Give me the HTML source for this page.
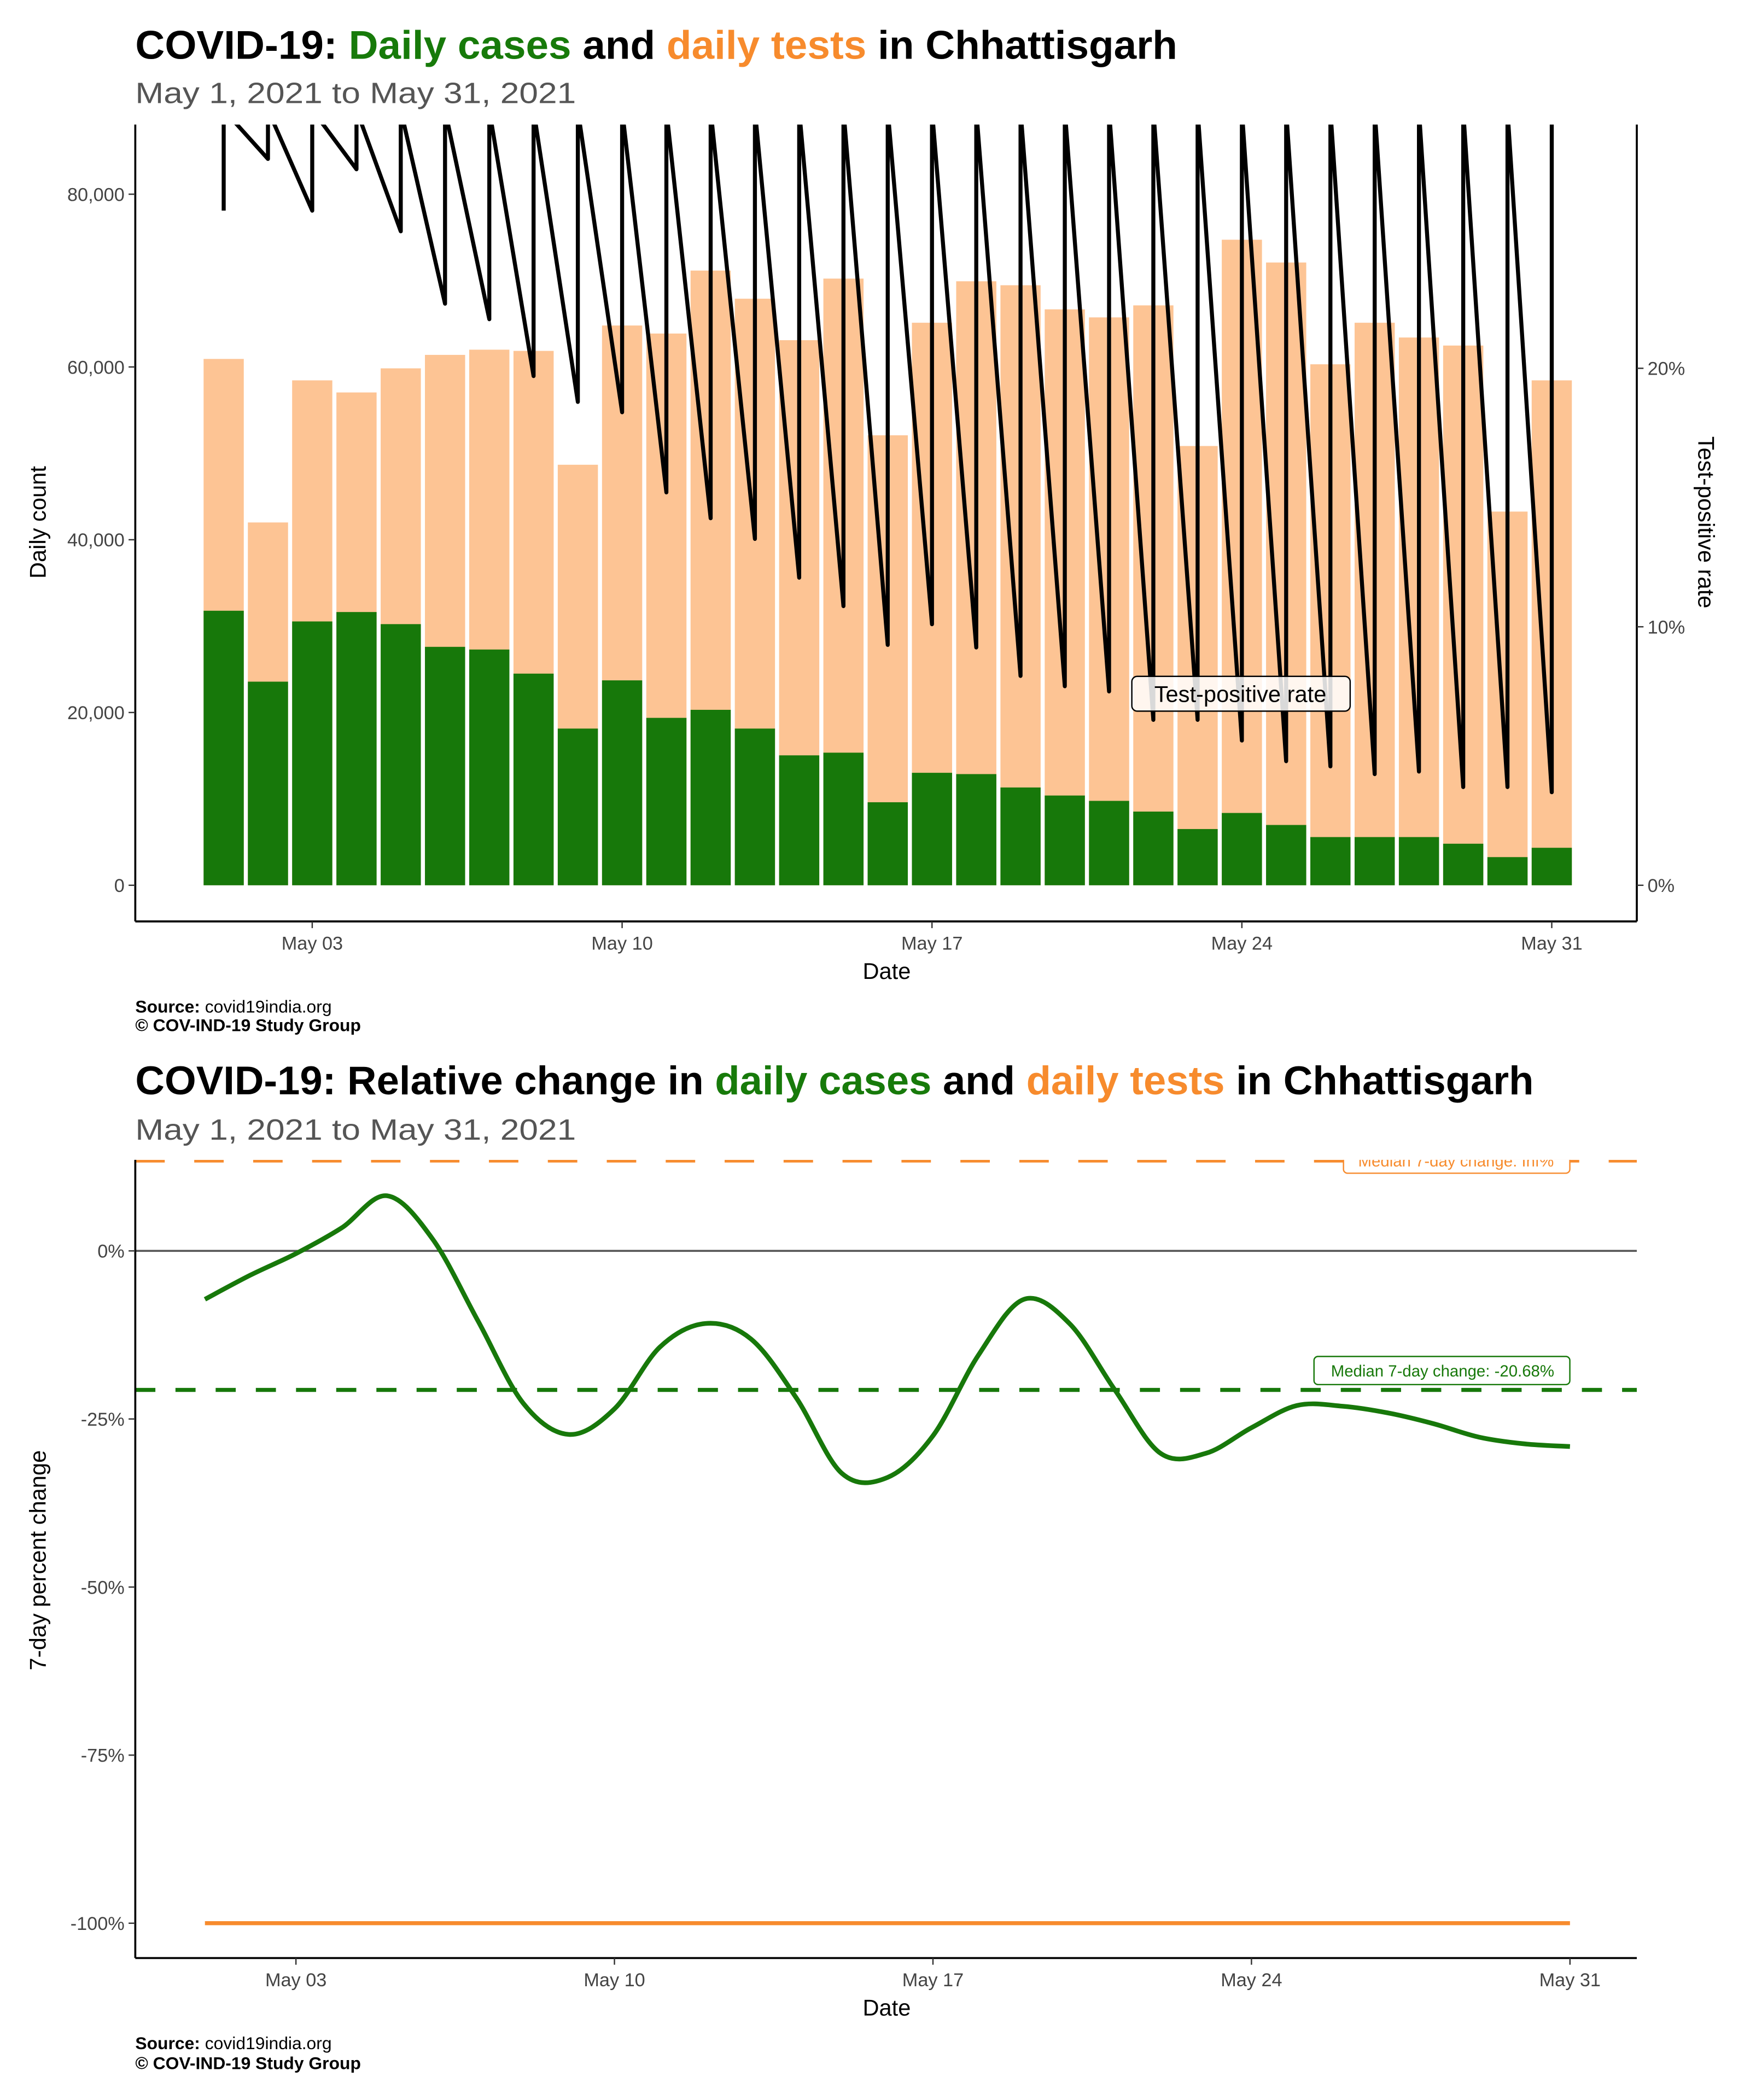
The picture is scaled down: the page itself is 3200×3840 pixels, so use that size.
<!DOCTYPE html>
<html><head><meta charset="utf-8"><style>
html,body{margin:0;padding:0;background:#fff;}
svg{display:block;font-family:"Liberation Sans",sans-serif;}
</style></head><body>
<svg id="root" width="3200" height="3840" viewBox="0 0 1306.5 1568" preserveAspectRatio="none" xmlns="http://www.w3.org/2000/svg">
<defs>
<clipPath id="clip1"><rect x="101" y="93" width="1121" height="595"/></clipPath>
<clipPath id="clip2"><rect x="101" y="866" width="1121" height="596"/></clipPath>
</defs>
<g>
<text x="101" y="44" font-size="30" font-weight="bold" textLength="778" lengthAdjust="spacingAndGlyphs">COVID-19: <tspan fill="#177a0a">Daily cases</tspan> and <tspan fill="#f78b2d">daily tests</tspan> in Chhattisgarh</text>
<text x="101" y="77" font-size="22" fill="#555" textLength="329" lengthAdjust="spacingAndGlyphs">May  1, 2021 to May 31, 2021</text>
</g>
<g id="chart1"></g>
<g>
<text x="101" y="756" font-size="13"><tspan font-weight="bold">Source:</tspan> covid19india.org</text>
<text x="101" y="770" font-size="13" font-weight="bold">© COV-IND-19 Study Group</text>
</g>
<g>
<text x="101" y="817" font-size="30" font-weight="bold" textLength="1044" lengthAdjust="spacingAndGlyphs">COVID-19: Relative change in <tspan fill="#177a0a">daily cases</tspan> and <tspan fill="#f78b2d">daily tests</tspan> in Chhattisgarh</text>
<text x="101" y="851" font-size="22" fill="#555" textLength="329" lengthAdjust="spacingAndGlyphs">May  1, 2021 to May 31, 2021</text>
</g>
<g id="chart2"></g>
<g>
<text x="101" y="1530" font-size="13"><tspan font-weight="bold">Source:</tspan> covid19india.org</text>
<text x="101" y="1545" font-size="13" font-weight="bold">© COV-IND-19 Study Group</text>
</g>
</svg>
<script>
const days = [1,2,3,4,5,6,7,8,9,10,11,12,13,14,15,16,17,18,19,20,21,22,23,24,25,26,27,28,29,30,31];
const tests = [60930,42000,58450,57050,59840,61400,62000,61860,48680,64800,63870,71160,67900,63100,70230,52090,65120,69920,69460,66670,65740,67130,50850,74730,72090,60310,65120,63410,62480,43260,58450];
const cases = [31780,23570,30540,31630,30230,27600,27290,24500,18140,23720,19380,20310,18140,15040,15350,9610,13020,12870,11320,10390,9770,8530,6510,8370,6980,5580,5580,5580,4810,3260,4340];
const tprLow = [26.1,28.1,26.1,27.7,25.3,22.5,21.9,19.7,18.7,18.3,15.2,14.2,13.4,11.9,10.8,9.3,10.1,9.2,8.1,7.7,7.5,6.4,6.4,5.6,4.8,4.6,4.3,4.4,3.8,3.8,3.6];
const tprHigh = [30,30,30,30,30,30,30,30,30,30,30,30,30,30,30,30,30,30,30,30,30,30,30,30,30,30,30,30,30,30,30];
const leftTicks = [0,20000,40000,60000,80000];
const leftTickLabels = ["0","20,000","40,000","60,000","80,000"];
const rightTicks = [0,10,20];
const rightTickLabels = ["0%","10%","20%"];
const xTicks = [3,10,17,24,31];
const xTickLabels = ["May 03","May 10","May 17","May 24","May 31"];
const change = [-7.2,-3.6,-0.4,3.4,8.2,1.8,-10.4,-22.7,-27.3,-23.5,-14.3,-10.8,-13.1,-21.9,-33.1,-33.7,-27.5,-15.5,-7.2,-10.8,-20.7,-30.1,-30.1,-26.3,-23.0,-23.1,-24.1,-25.7,-27.7,-28.7,-29.1];
const medianCases = -20.68;
const testsChange = -100;
const yTicks2 = [0,-25,-50,-75,-100];
const yTickLabels2 = ["0%","-25%","-50%","-75%","-100%"];

const NS="http://www.w3.org/2000/svg";
function mk(parent,tag,attrs,text){const e=document.createElementNS(NS,tag);for(const k in attrs)e.setAttribute(k,attrs[k]);if(text!==undefined)e.textContent=text;parent.appendChild(e);return e;}

// Chart 1
const c1=document.getElementById('chart1');
const x1=d=>167+(d-1)*33.05;
const yL=v=>661-v*129/20000;
const yR=p=>661-p*19.3;
const bw=30;
const bars=mk(c1,'g',{'clip-path':'url(#clip1)'});


days.forEach((d,i)=>{
  const t=mk(bars,'rect',{x:x1(d)-bw/2,y:yL(tests[i]),width:bw,height:yL(0)-yL(tests[i]),fill:'#fdc494'});
  
  
  const c=mk(bars,'rect',{x:x1(d)-bw/2,y:yL(cases[i]),width:bw,height:yL(0)-yL(cases[i]),fill:'#17780a'});
  
  
});
let pd='';
days.forEach((d,i)=>{pd+=(i?'L':'M')+x1(d)+','+yR(tprLow[i])+'L'+x1(d)+','+yR(tprHigh[i]);});
const tl=mk(c1,'path',{d:pd,fill:'none',stroke:'#000','stroke-width':3,'stroke-linejoin':'round','clip-path':'url(#clip1)'});


const lb=mk(c1,'g',{});


mk(lb,'rect',{x:845,y:505,width:163,height:26,rx:4,fill:'#fff','fill-opacity':0.85,stroke:'#000','stroke-width':1});
mk(lb,'text',{x:926,y:524,'font-size':17,'text-anchor':'middle'},'Test-positive rate');
const ax1=mk(c1,'g',{});


mk(ax1,'line',{x1:101,y1:93,x2:101,y2:688,stroke:'#000','stroke-width':1.5});
mk(ax1,'line',{x1:1222,y1:93,x2:1222,y2:688,stroke:'#000','stroke-width':1.5});
mk(ax1,'line',{x1:101,y1:688,x2:1222,y2:688,stroke:'#000','stroke-width':1.5});
leftTicks.forEach((v,i)=>{mk(ax1,'line',{x1:96,x2:101,y1:yL(v),y2:yL(v),stroke:'#333'});
  const t=mk(ax1,'text',{x:93,y:yL(v)+5,'font-size':14,fill:'#444','text-anchor':'end'},leftTickLabels[i]);
  
  });
rightTicks.forEach((v,i)=>{mk(ax1,'line',{x1:1222,x2:1227,y1:yR(v),y2:yR(v),stroke:'#333'});
  const t=mk(ax1,'text',{x:1230,y:yR(v)+5,'font-size':14,fill:'#444'},rightTickLabels[i]);
  
  });
xTicks.forEach((d,i)=>{mk(ax1,'line',{x1:x1(d),x2:x1(d),y1:688,y2:693,stroke:'#333'});
  const t=mk(ax1,'text',{x:x1(d),y:709,'font-size':14,fill:'#444','text-anchor':'middle'},xTickLabels[i]);
  
  });
let t1=mk(ax1,'text',{x:662,y:731,'font-size':17,'text-anchor':'middle'},'Date');


t1=mk(ax1,'text',{transform:'translate(34,390) rotate(-90)','font-size':17,'text-anchor':'middle'},'Daily count');


t1=mk(ax1,'text',{transform:'translate(1268,390) rotate(90)','font-size':17,'text-anchor':'middle'},'Test-positive rate');



// Chart 2
const c2=document.getElementById('chart2');
const x2=d=>153+(d-1)*33.97;
const y2=p=>934-p*5.02;
const g2=mk(c2,'g',{'clip-path':'url(#clip2)'});


let z=mk(g2,'line',{x1:101,x2:1222,y1:y2(0),y2:y2(0),stroke:'#555','stroke-width':1.5});


z=mk(g2,'line',{x1:101,x2:1222,y1:867,y2:867,stroke:'#f78b2d','stroke-width':2,'stroke-dasharray':'22 22'});


z=mk(g2,'g',{});


mk(z,'rect',{x:1003,y:858,width:169,height:18,rx:3,fill:'#fff',stroke:'#f78b2d','stroke-width':1});
mk(z,'text',{x:1087,y:871,'font-size':12,fill:'#f78b2d','text-anchor':'middle'},'Median 7-day change: Inf%');
z=mk(g2,'line',{x1:101,x2:1222,y1:y2(medianCases),y2:y2(medianCases),stroke:'#17780a','stroke-width':3,'stroke-dasharray':'15 15'});


z=mk(g2,'g',{});


const ly=y2(medianCases);
mk(z,'rect',{x:981,y:ly-25,width:191,height:21,rx:3,fill:'#fff',stroke:'#17780a','stroke-width':1});
mk(z,'text',{x:1077,y:ly-10,'font-size':12,fill:'#17780a','text-anchor':'middle'},'Median 7-day change: '+medianCases.toFixed(2)+'%');
z=mk(g2,'line',{x1:x2(1),x2:x2(31),y1:y2(testsChange),y2:y2(testsChange),stroke:'#f78b2d','stroke-width':3});


const pts=days.map((d,i)=>[x2(d),y2(change[i])]);
let p2='M'+pts[0][0]+','+pts[0][1];
for(let i=0;i<pts.length-1;i++){const p0=pts[i-1]||pts[i],p1=pts[i],q=pts[i+1],q2=pts[i+2]||q;
 const c1x=p1[0]+(q[0]-p0[0])/6,c1y=p1[1]+(q[1]-p0[1])/6,c2x=q[0]-(q2[0]-p1[0])/6,c2y=q[1]-(q2[1]-p1[1])/6;
 p2+='C'+c1x+','+c1y+' '+c2x+','+c2y+' '+q[0]+','+q[1];}
z=mk(g2,'path',{d:p2,fill:'none',stroke:'#17780a','stroke-width':3.5,'stroke-linejoin':'round'});


const ax2=mk(c2,'g',{});


mk(ax2,'line',{x1:101,y1:866,x2:101,y2:1462,stroke:'#000','stroke-width':1.5});
mk(ax2,'line',{x1:101,y1:1462,x2:1222,y2:1462,stroke:'#000','stroke-width':1.5});
yTicks2.forEach((v,i)=>{mk(ax2,'line',{x1:96,x2:101,y1:y2(v),y2:y2(v),stroke:'#333'});
  const t=mk(ax2,'text',{x:93,y:y2(v)+5,'font-size':14,fill:'#444','text-anchor':'end'},yTickLabels2[i]);
  
  });
xTicks.forEach((d,i)=>{mk(ax2,'line',{x1:x2(d),x2:x2(d),y1:1462,y2:1467,stroke:'#333'});
  const t=mk(ax2,'text',{x:x2(d),y:1483,'font-size':14,fill:'#444','text-anchor':'middle'},xTickLabels[i]);
  
  });
t1=mk(ax2,'text',{x:662,y:1505,'font-size':17,'text-anchor':'middle'},'Date');


t1=mk(ax2,'text',{transform:'translate(34,1165) rotate(-90)','font-size':17,'text-anchor':'middle'},'7-day percent change');


</script>
</body></html>
